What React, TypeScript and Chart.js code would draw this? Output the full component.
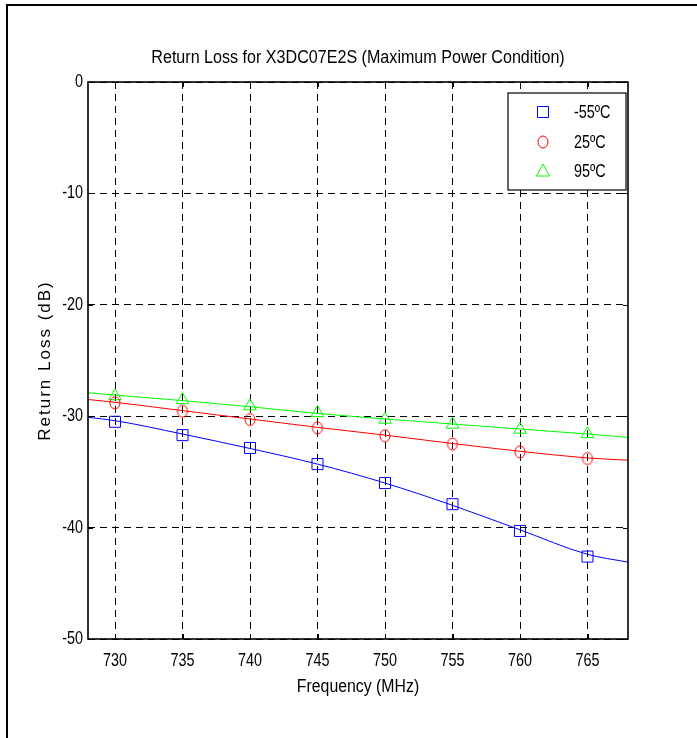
import React, { useEffect, useRef } from 'react';
import { Chart, registerables } from 'chart.js';

Chart.register(...registerables);

// ---- data ----
const markerFreqs = [730, 735, 740, 745, 750, 755, 760, 765];
const markerM55 = [-30.5, -31.7, -32.85, -34.3, -36.0, -37.9, -40.3, -42.6];
const marker25 = [-28.8, -29.55, -30.3, -31.05, -31.75, -32.5, -33.2, -33.8];
const marker95 = [-28.2, -28.55, -29.1, -29.7, -30.3, -30.75, -31.2, -31.6];

const fitFreqs = [728, 730, 735, 740, 745, 750, 755, 760, 765, 768];
const fitM55 = [-30.1, -30.4, -31.6, -32.9, -34.3, -36.0, -38.0, -40.2, -42.4, -43.1];
const fit25 = [-28.5, -28.75, -29.5, -30.25, -31.0, -31.7, -32.45, -33.15, -33.75, -33.95];
const fit95 = [-27.9, -28.1, -28.6, -29.15, -29.75, -30.25, -30.7, -31.15, -31.6, -31.9];

const xTicks = [730, 735, 740, 745, 750, 755, 760, 765];
const yTicks = [-50, -40, -30, -20, -10, 0];
const seriesLabels = ['-55ºC', '25ºC', '95ºC'];
const seriesColors = ['#0000ff', '#ff0000', '#00ff00'];

const titleText = 'Return Loss for X3DC07E2S (Maximum Power Condition)';
const xTitle = 'Frequency (MHz)';
const yTitle = 'Return Loss (dB)';

const SANS = "'Liberation Sans', Arial, sans-serif";

function makeEllipse(color: string): HTMLCanvasElement {
  const c = document.createElement('canvas');
  c.width = 14;
  c.height = 16;
  const g = c.getContext('2d')!;
  g.strokeStyle = color;
  g.lineWidth = 1;
  g.beginPath();
  g.ellipse(7, 8, 5, 6, 0, 0, Math.PI * 2);
  g.stroke();
  return c;
}

function pts(xs: number[], ys: number[]) {
  return xs.map((x, i) => ({ x, y: ys[i] }));
}

function narrowText(
  ctx: CanvasRenderingContext2D,
  text: string,
  x: number,
  y: number,
  size: number,
  sx: number,
  align: CanvasTextAlign
) {
  ctx.save();
  ctx.translate(x, y);
  ctx.scale(sx, 1);
  ctx.font = `${size}px ${SANS}`;
  ctx.textAlign = align;
  ctx.textBaseline = 'middle';
  ctx.fillStyle = '#000';
  ctx.fillText(text, 0, 0);
  ctx.restore();
}

const decorPlugin = {
  id: 'decor',
  afterDraw(chart: any) {
    const { ctx, chartArea } = chart;
    const { left, right, top, bottom } = chartArea;
    const xs = chart.scales.x;
    const ys = chart.scales.y;
    ctx.save();
    // figure frame
    ctx.strokeStyle = '#000';
    ctx.lineWidth = 2;
    ctx.beginPath();
    ctx.moveTo(7, 738);
    ctx.lineTo(7, 5);
    ctx.lineTo(697, 5);
    ctx.stroke();

    // inward ticks
    ctx.lineWidth = 1;
    ctx.beginPath();
    xTicks.forEach((v) => {
      const px = Math.round(xs.getPixelForValue(v)) + 0.5;
      ctx.moveTo(px, bottom);
      ctx.lineTo(px, bottom - 5);
      ctx.moveTo(px, top);
      ctx.lineTo(px, top + 5);
    });
    yTicks.forEach((v) => {
      const py = Math.round(ys.getPixelForValue(v)) + 0.5;
      ctx.moveTo(left, py);
      ctx.lineTo(left + 5, py);
      ctx.moveTo(right, py);
      ctx.lineTo(right - 5, py);
    });
    ctx.stroke();

    // axes box
    ctx.lineWidth = 1.6;
    ctx.strokeRect(left, top, right - left, bottom - top);

    // tick labels
    xTicks.forEach((v) => {
      narrowText(ctx, String(v), xs.getPixelForValue(v), 661, 18, 0.8, 'center');
    });
    yTicks.forEach((v) => {
      narrowText(ctx, String(v), left - 5, ys.getPixelForValue(v), 18, 0.8, 'right');
    });

    // title
    narrowText(ctx, titleText, (left + right) / 2, 58, 17.5, 0.92, 'center');

    // x title
    narrowText(ctx, xTitle, (left + right) / 2, 687, 18, 0.88, 'center');

    // y title
    ctx.save();
    ctx.translate(45, (top + bottom) / 2);
    ctx.rotate(-Math.PI / 2);
    ctx.font = `17px ${SANS}`;
    ctx.textAlign = 'center';
    ctx.textBaseline = 'middle';
    ctx.fillStyle = '#000';
    (ctx as any).letterSpacing = '2px';
    ctx.fillText(yTitle, 0, 0);
    ctx.restore();

    // legend
    const lx = 508, ly = 93, lw = 118, lh = 97;
    ctx.fillStyle = '#fff';
    ctx.fillRect(lx, ly, lw, lh);
    ctx.strokeStyle = '#000';
    ctx.lineWidth = 1.2;
    ctx.strokeRect(lx, ly, lw, lh);
    const rows = [112, 142, 171];
    ctx.lineWidth = 1;
    seriesLabels.forEach((lab, i) => {
      const cy = rows[i];
      const cx = 543;
      ctx.strokeStyle = seriesColors[i];
      ctx.beginPath();
      if (i === 0) {
        ctx.rect(cx - 5.5, cy - 5.5, 11, 11);
      } else if (i === 1) {
        ctx.ellipse(cx, cy, 5, 6, 0, 0, Math.PI * 2);
      } else {
        ctx.moveTo(cx, cy - 7);
        ctx.lineTo(cx + 6.5, cy + 5);
        ctx.lineTo(cx - 6.5, cy + 5);
        ctx.closePath();
      }
      ctx.stroke();
      narrowText(ctx, lab, 574, cy + 1, 18, 0.8, 'left');
    });
    ctx.restore();
  },
};

export default function App() {
  const ref = useRef<HTMLCanvasElement | null>(null);

  useEffect(() => {
    document.body.style.margin = '0';
    const canvas = ref.current!;
    const ellipse = makeEllipse(seriesColors[1]);
    const lineDs = (data: number[], color: string) => ({
      type: 'line' as const,
      data: pts(fitFreqs, data),
      borderColor: color,
      backgroundColor: color,
      borderWidth: 1,
      pointRadius: 0,
      cubicInterpolationMode: 'monotone' as const,
      fill: false,
      order: 2,
    });
    const markDs = (data: number[], color: string, style: any, r: number) => ({
      type: 'scatter' as const,
      data: pts(markerFreqs, data),
      showLine: false,
      borderColor: color,
      backgroundColor: 'rgba(0,0,0,0)',
      pointStyle: style,
      pointRadius: r,
      pointBorderWidth: 1,
      order: 1,
    });
    const chart = new Chart(canvas, {
      type: 'scatter',
      data: {
        datasets: [
          lineDs(fitM55, seriesColors[0]),
          lineDs(fit25, seriesColors[1]),
          lineDs(fit95, seriesColors[2]),
          markDs(markerM55, seriesColors[0], 'rect', 7.8),
          markDs(marker25, seriesColors[1], ellipse, 6),
          markDs(marker95, seriesColors[2], 'triangle', 7.3),
        ] as any,
      },
      options: {
        animation: false,
        responsive: false,
        devicePixelRatio: 1,
        layout: { padding: { top: 82, right: 69, left: 0, bottom: 0 } },
        plugins: { legend: { display: false }, title: { display: false }, tooltip: { enabled: false } },
        scales: {
          x: {
            type: 'linear',
            min: 728,
            max: 768,
            afterBuildTicks: (s: any) => {
              s.ticks = xTicks.map((v) => ({ value: v }));
            },
            afterFit: (s: any) => {
              s.height = 99;
            },
            ticks: { display: false },
            grid: { color: '#000', lineWidth: 1, drawTicks: false },
            border: { display: false, dash: [7, 5] },
          },
          y: {
            type: 'linear',
            min: -50,
            max: 0,
            afterBuildTicks: (s: any) => {
              s.ticks = yTicks.map((v) => ({ value: v }));
            },
            afterFit: (s: any) => {
              s.width = 88;
            },
            ticks: { display: false },
            grid: { color: '#000', lineWidth: 1, drawTicks: false },
            border: { display: false, dash: [7, 5] },
          },
        },
      },
      plugins: [decorPlugin],
    });
    return () => chart.destroy();
  }, []);

  return (
    <div style={{ position: 'absolute', left: 0, top: 0 }}>
      <canvas ref={ref} width={697} height={738} style={{ width: 697, height: 738, display: 'block' }} />
    </div>
  );
}
